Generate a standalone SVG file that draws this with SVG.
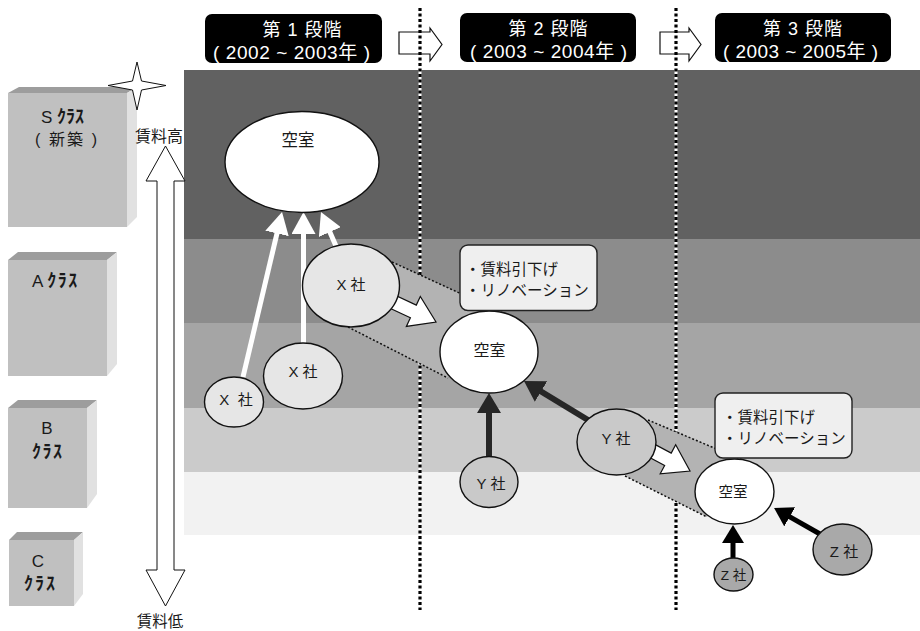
<svg xmlns="http://www.w3.org/2000/svg" width="920" height="631" viewBox="0 0 920 631">
<defs>
<style>
text{font-family:"Liberation Sans","Noto Sans CJK JP",sans-serif;fill:#1a1a1a}
.hd{fill:#fff;text-anchor:middle}
.c{text-anchor:middle}
.kana{font-size:18px;font-weight:bold}
.front{fill:#c0c0c0}
.top{fill:#9d9d9d}
.side{fill:#e1e1e1}
.node{stroke:#111;stroke-width:1.4}
.vac{fill:#fff}
.x{fill:#e6e6e6}
.y{fill:#c9c9c9}
.z{fill:#a9a9a9}
.call{fill:#efefef;stroke:#222;stroke-width:1.4}
.tr{fill:#b3b3b3}
.dot{fill:none;stroke:#111;stroke-width:1.5;stroke-dasharray:2 2}
.vbase{stroke:#fff;stroke-width:3}
.vline{stroke:#000;stroke-width:3.2;stroke-dasharray:3 2.5}
.blk{fill:#fff;stroke:#111;stroke-width:1.2}
.wl{stroke:#fff;stroke-width:5;fill:none}
.dl{stroke:#262626;stroke-width:6;fill:none}
.kl{stroke:#000;stroke-width:5;fill:none}
</style>
<marker id="mw" markerUnits="userSpaceOnUse" viewBox="0 0 22 24" markerWidth="22" markerHeight="24" refX="14" refY="12" orient="auto"><path d="M0,0 L22,12 L0,24 Z" fill="#fff"/></marker>
<marker id="md" markerUnits="userSpaceOnUse" viewBox="0 0 20 24" markerWidth="20" markerHeight="24" refX="12" refY="12" orient="auto"><path d="M0,0 L20,12 L0,24 Z" fill="#262626"/></marker>
<marker id="mk" markerUnits="userSpaceOnUse" viewBox="0 0 18 22" markerWidth="18" markerHeight="22" refX="10" refY="11" orient="auto"><path d="M0,0 L18,11 L0,22 Z" fill="#000"/></marker>
<path id="fat" class="blk" d="M-60,-7 L-25,-7 L-25,-16.5 L0,0 L-25,16.5 L-25,7 L-60,7 Z"/>
</defs>

<!-- building class cubes -->
<g id="cube-s">
<rect class="front" x="8" y="93" width="119" height="134"/>
<polygon class="top" points="8,93 19,87 137,87 127,93"/>
<polygon class="side" points="127,93 137,87 137,217 127,227"/>
<text x="41" y="123" font-size="17">S <tspan class="kana" textLength="27">ｸﾗｽ</tspan></text>
<text x="35" y="145" font-size="16" textLength="62">( 新築 )</text>
</g>
<g id="cube-a">
<rect class="front" x="8" y="260" width="99" height="116"/>
<polygon class="top" points="8,260 18,252 117,252 107,260"/>
<polygon class="side" points="107,260 117,252 117,364 107,376"/>
<text x="32" y="287" font-size="17">A <tspan class="kana" textLength="30">ｸﾗｽ</tspan></text>
</g>
<g id="cube-b">
<rect class="front" x="8" y="408" width="79" height="100"/>
<polygon class="top" points="8,408 18,400 97,400 87,408"/>
<polygon class="side" points="87,408 97,400 97,494 87,508"/>
<text x="47" y="434" font-size="17" class="c">B</text>
<text x="32" y="458" class="kana" textLength="30">ｸﾗｽ</text>
</g>
<g id="cube-c">
<rect class="front" x="9" y="540" width="65" height="66"/>
<polygon class="top" points="9,540 17,532 83,532 74,540"/>
<polygon class="side" points="74,540 83,532 83,594 74,606"/>
<text x="38" y="567" font-size="17" class="c">C</text>
<text x="24" y="590" class="kana" textLength="31">ｸﾗｽ</text>
</g>

<!-- stage headers -->
<g id="stage1">
<rect x="205" y="14" width="177" height="49" rx="7" fill="#000"/>
<text class="hd" x="302" y="36" font-size="18" textLength="79">第 1 段階</text>
<text class="hd" x="291.5" y="59" font-size="19" textLength="157">( 2002 ~ 2003年 )</text>
</g>
<g id="stage2">
<rect x="460" y="13" width="176" height="49" rx="7" fill="#000"/>
<text class="hd" x="548" y="35" font-size="18" textLength="79">第 2 段階</text>
<text class="hd" x="548.5" y="58" font-size="19" textLength="157">( 2003 ~ 2004年 )</text>
</g>
<g id="stage3">
<rect x="715" y="13" width="176" height="49" rx="7" fill="#000"/>
<text class="hd" x="802.5" y="35" font-size="18" textLength="79">第 3 段階</text>
<text class="hd" x="800.5" y="58" font-size="19" textLength="155">( 2003 ~ 2005年 )</text>
</g>
<polygon class="blk" points="399,32 430,32 430,28 442,44.5 430,61 430,54 399,54"/>
<polygon class="blk" points="660,32 689,32 689,28 701,44.5 689,61 689,54 660,54"/>

<!-- rent level bands -->
<g id="bands">
<rect x="184" y="70" width="736" height="169" fill="#616161"/>
<rect x="184" y="239" width="736" height="84" fill="#8c8c8c"/>
<rect x="184" y="323" width="736" height="85" fill="#a5a5a5"/>
<rect x="184" y="408" width="736" height="64" fill="#cbcbcb"/>
<rect x="184" y="472" width="736" height="63" fill="#f2f2f2"/>
</g>

<!-- stage dividers -->
<line class="vbase" x1="420" y1="70" x2="420" y2="535"/>
<line class="vbase" x1="676" y1="70" x2="676" y2="535"/>
<line class="vline" x1="420" y1="8" x2="420" y2="610"/>
<line class="vline" x1="676" y1="8" x2="676" y2="610"/>

<!-- shifting tenant bands -->
<g id="shift1">
<polygon class="tr" points="392,262 505,314 448,378 348,327"/>
<line class="dot" x1="392" y1="262" x2="505" y2="314"/>
<line class="dot" x1="348" y1="327" x2="448" y2="378"/>
</g>
<g id="shift2">
<polygon class="tr" points="648,420 745,461 707,517 625,476"/>
<line class="dot" x1="648" y1="420" x2="745" y2="461"/>
<line class="dot" x1="625" y1="476" x2="707" y2="517"/>
</g>

<!-- connectors -->
<g id="connectors">
<line class="wl" x1="243" y1="377" x2="280.2" y2="219.8" marker-end="url(#mw)"/>
<line class="wl" x1="303.5" y1="343" x2="303.5" y2="220" marker-end="url(#mw)"/>
<line class="wl" x1="336" y1="246" x2="324.2" y2="219.3" marker-end="url(#mw)"/>
<use href="#fat" transform="translate(436,322) rotate(25)"/>
<use href="#fat" transform="translate(690,471) rotate(28)"/>
<line class="dl" x1="489" y1="456" x2="489" y2="401" marker-end="url(#md)"/>
<line class="dl" x1="588" y1="420" x2="530.8" y2="385.2" marker-end="url(#md)"/>
<line class="kl" x1="733" y1="558" x2="733" y2="533" marker-end="url(#mk)"/>
<line class="kl" x1="820" y1="534" x2="781" y2="511.9" marker-end="url(#mk)"/>
</g>

<!-- nodes -->
<g id="vacancy1">
<ellipse class="node vac" cx="302" cy="162" rx="77" ry="50.5"/>
<text class="c" x="298" y="146" font-size="16.5">空室</text>
</g>
<g id="x-small">
<ellipse class="node x" cx="234" cy="402" rx="29.5" ry="25"/>
<text class="c" x="236" y="405" font-size="15" style="white-space:pre">X  社</text>
</g>
<g id="x-mid">
<ellipse class="node x" cx="303" cy="376" rx="39.5" ry="33"/>
<text class="c" x="303" y="377" font-size="15">X 社</text>
</g>
<g id="x-large">
<ellipse class="node x" cx="351" cy="285.5" rx="48.5" ry="41.5"/>
<text class="c" x="351" y="290" font-size="15">X 社</text>
</g>
<g id="vacancy2">
<ellipse class="node vac" cx="489" cy="352" rx="49" ry="41"/>
<text class="c" x="489.5" y="356" font-size="16">空室</text>
</g>
<g id="y-upper">
<ellipse class="node y" cx="616.5" cy="442" rx="39.5" ry="33"/>
<text class="c" x="616" y="444" font-size="15">Y 社</text>
</g>
<g id="y-lower">
<ellipse class="node y" cx="489" cy="482" rx="29" ry="25.5"/>
<text class="c" x="491" y="489" font-size="15">Y 社</text>
</g>
<g id="vacancy3">
<ellipse class="node vac" cx="734.5" cy="491.5" rx="39.5" ry="32.5"/>
<text class="c" x="733" y="497" font-size="14.5">空室</text>
</g>
<g id="z-small">
<ellipse class="node z" cx="733.5" cy="574.5" rx="19.5" ry="16.5"/>
<text class="c" x="733.5" y="580" font-size="13.5">Z 社</text>
</g>
<g id="z-large">
<ellipse class="node z" cx="842.5" cy="549.5" rx="29.5" ry="25.5"/>
<text class="c" x="844" y="557" font-size="15">Z 社</text>
</g>

<!-- measures -->
<g id="note1">
<rect class="call" x="460" y="245" width="137" height="65.5" rx="8"/>
<text x="465" y="275" font-size="15.5">・賃料引下げ</text>
<text x="465" y="296" font-size="15.5">・リノベーション</text>
</g>
<g id="note2">
<rect class="call" x="715" y="393" width="137" height="65" rx="8"/>
<text x="722" y="423" font-size="15.5">・賃料引下げ</text>
<text x="722" y="444" font-size="15.5">・リノベーション</text>
</g>

<!-- rent scale -->
<g id="scale">
<path d="M137,62 L141.5,81 L166,85.5 L141.5,90 L137,110 L132.5,90 L108,85.5 L132.5,81 Z" fill="#fff" stroke="#111" stroke-width="1"/>
<polygon points="165.5,146 185,181 174,181 174,570 185,570 165.5,606 146,570 157,570 157,181 146,181" fill="#fff" stroke="#111" stroke-width="1"/>
<text class="c" x="159" y="142" font-size="16">賃料高</text>
<text class="c" x="160" y="627" font-size="15.5">賃料低</text>
</g>
</svg>
